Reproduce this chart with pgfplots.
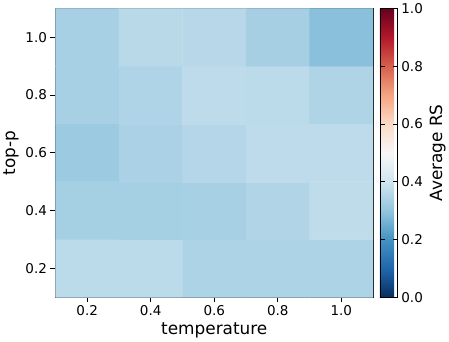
\documentclass[border=0pt]{standalone}
\usepackage{fontspec}
\setmainfont{DejaVu Sans}
\usepackage{pgfplots}
\pgfplotsset{compat=1.18}
\usepackage{pgfplotstable}

% Average RS per (temperature, top-p)
\pgfplotstableread{
x   y   c
0.2 0.2 0.366
0.4 0.2 0.366
0.6 0.2 0.343
0.8 0.2 0.343
1.0 0.2 0.343
0.2 0.4 0.330
0.4 0.4 0.330
0.6 0.4 0.335
0.8 0.4 0.350
1.0 0.4 0.372
0.2 0.6 0.315
0.4 0.6 0.338
0.6 0.6 0.354
0.8 0.6 0.368
1.0 0.6 0.370
0.2 0.8 0.335
0.4 0.8 0.348
0.6 0.8 0.370
0.8 0.8 0.365
1.0 0.8 0.346
0.2 1.0 0.335
0.4 1.0 0.362
0.6 1.0 0.360
0.8 1.0 0.333
1.0 1.0 0.290
}\rsdata

\begin{document}
\begin{tikzpicture}
\begin{axis}[
    scale only axis,
    width=320pt, height=291pt,
    xmin=0.1, xmax=1.1, ymin=0.1, ymax=1.1,
    /pgf/number format/assume math mode=true,
    xtick={0.2,0.4,0.6,0.8,1.0},
    ytick={0.2,0.4,0.6,0.8,1.0},
    xticklabels={0.2,0.4,0.6,0.8,1.0},
    yticklabels={0.2,0.4,0.6,0.8,1.0},
    tick align=outside, tick pos=left,
    major tick length=5pt,
    tick style={black, line width=0.8pt},
    tick label style={font=\fontsize{13.6}{16}\selectfont},
    label style={font=\fontsize{17}{20}\selectfont},
    xlabel={temperature}, ylabel={top-p},
    axis line style={black, line width=0.8pt},
    colormap={rdbu}{rgb255(0)=(5,48,97) rgb255(1)=(33,102,172) rgb255(2)=(67,147,195)
        rgb255(3)=(146,197,222) rgb255(4)=(209,229,240) rgb255(5)=(247,247,247)
        rgb255(6)=(253,219,199) rgb255(7)=(244,165,130) rgb255(8)=(214,96,77)
        rgb255(9)=(178,24,43) rgb255(10)=(103,0,31)},
    point meta min=0, point meta max=1,
    colorbar,
    colorbar style={
        width=18pt,
        xshift=-2pt,
        /pgf/number format/assume math mode=true,
        ytick={0,0.2,0.4,0.6,0.8,1.0},
        yticklabels={0.0,0.2,0.4,0.6,0.8,1.0},
        ylabel={Average RS},
        ylabel style={font=\fontsize{17}{20}\selectfont},
        yticklabel style={font=\fontsize{13.6}{16}\selectfont},
        major tick length=5pt,
        tick style={black, line width=0.8pt},
        axis line style={black, line width=0.8pt},
    },
]
\addplot[matrix plot*, mesh/cols=5, point meta=explicit] table[x=x, y=y, meta=c] {\rsdata};
\end{axis}
\end{tikzpicture}
\end{document}
